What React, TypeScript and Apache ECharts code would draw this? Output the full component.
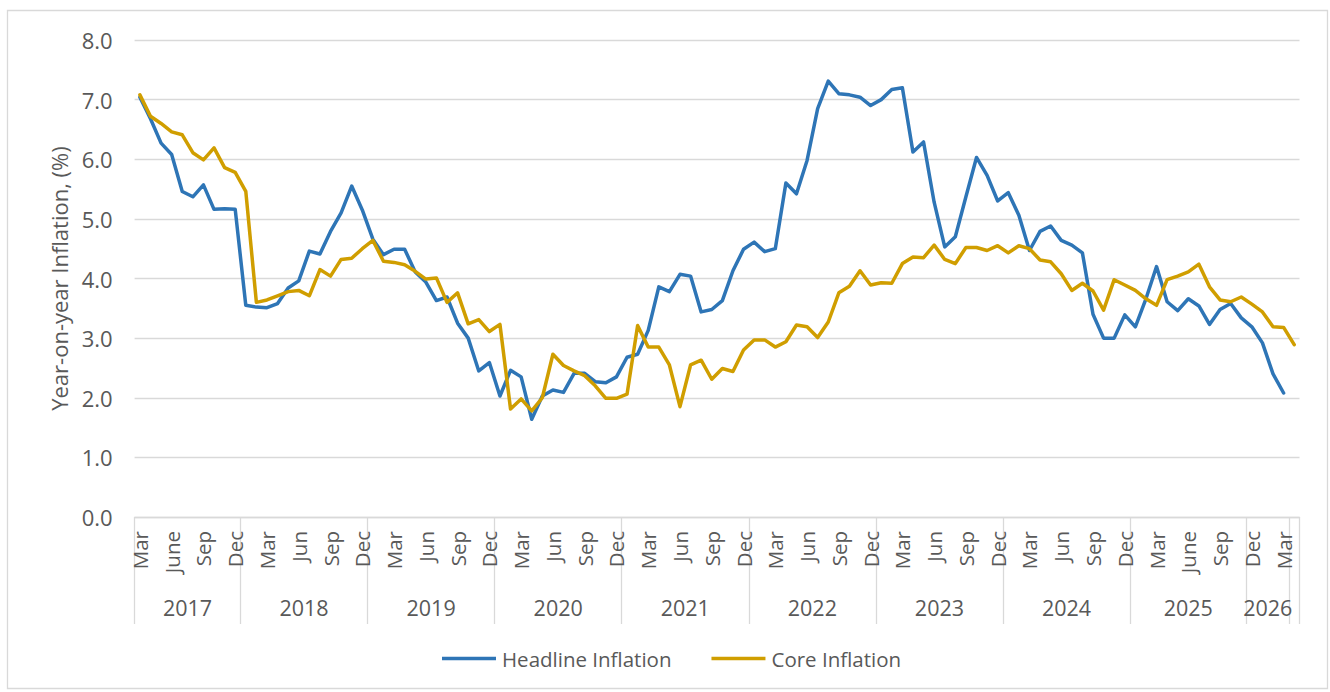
import React, { useEffect, useRef } from "react";
import * as echarts from "echarts";

// Monthly observations, Mar 2017 onward
const headlineInflation = [
  7.04, 6.68, 6.27, 6.08, 5.46, 5.37, 5.57, 5.16, 5.17, 5.16,
  3.55, 3.52, 3.51, 3.58, 3.84, 3.96, 4.46, 4.41, 4.79, 5.10, 5.55, 5.15,
  4.66, 4.40, 4.49, 4.49, 4.11, 3.94, 3.63, 3.69, 3.25, 3.00, 2.45, 2.59,
  2.03, 2.46, 2.35, 1.64, 2.03, 2.13, 2.09, 2.41, 2.41, 2.27, 2.25, 2.35,
  2.68, 2.73, 3.13, 3.86, 3.78, 4.07, 4.04, 3.44, 3.48, 3.63, 4.13, 4.49,
  4.61, 4.45, 4.50, 5.60, 5.42, 5.98, 6.85, 7.31, 7.10, 7.08, 7.04, 6.90,
  7.00, 7.17, 7.20, 6.12, 6.29, 5.28, 4.53, 4.70, 5.37, 6.03, 5.73, 5.30,
  5.44, 5.06, 4.47, 4.79, 4.88, 4.64, 4.56, 4.43, 3.40, 3.00, 3.00, 3.39,
  3.19, 3.66, 4.20, 3.61, 3.46, 3.66, 3.54, 3.23, 3.48, 3.58, 3.34, 3.19,
  2.92, 2.40, 2.08,
];

const coreInflation = [
  7.08, 6.72, 6.60, 6.46, 6.41, 6.11, 5.99, 6.19, 5.86, 5.78,
  5.46, 3.60, 3.64, 3.71, 3.78, 3.80, 3.71, 4.15, 4.04, 4.32, 4.34, 4.50,
  4.64, 4.29, 4.27, 4.23, 4.12, 3.99, 4.01, 3.60, 3.76, 3.24, 3.31, 3.11,
  3.23, 1.81, 1.98, 1.78, 2.00, 2.73, 2.54, 2.45, 2.37, 2.20, 1.99, 1.99,
  2.06, 3.21, 2.85, 2.85, 2.55, 1.85, 2.55, 2.63, 2.31, 2.49, 2.44, 2.80,
  2.97, 2.97, 2.85, 2.94, 3.22, 3.19, 3.01, 3.27, 3.76, 3.87, 4.13, 3.89,
  3.93, 3.92, 4.25, 4.36, 4.35, 4.56, 4.32, 4.25, 4.52, 4.52, 4.47, 4.55,
  4.43, 4.55, 4.50, 4.31, 4.28, 4.08, 3.80, 3.92, 3.79, 3.47, 3.98, 3.89,
  3.80, 3.66, 3.55, 3.98, 4.04, 4.11, 4.24, 3.86, 3.64, 3.61, 3.69, 3.57,
  3.44, 3.19, 3.18, 2.89,
];

// Lower-level labels, shown every third month starting with the first category
const monthTickLabels = [
  "Mar", "June", "Sep", "Dec",
  "Mar", "Jun", "Sep", "Dec",
  "Mar", "Jun", "Sep", "Dec",
  "Mar", "Jun", "Sep", "Dec",
  "Mar", "Jun", "Sep", "Dec",
  "Mar", "Jun", "Sep", "Dec",
  "Mar", "Jun", "Sep", "Dec",
  "Mar", "Jun", "Sep", "Dec",
  "Mar", "June", "Sep", "Dec",
  "Mar",
];

// Upper-level (year) groups and the number of categories in each
const yearNames = ["2017", "2018", "2019", "2020", "2021", "2022", "2023", "2024", "2025", "2026", ""];
const yearSpans = [10, 12, 12, 12, 12, 12, 12, 12, 11, 4, 1];

const seriesNames = ["Headline Inflation", "Core Inflation"];
const yTicks = [0, 8, 1];

export default function App() {
  const ref = useRef<HTMLDivElement>(null);

  useEffect(() => {
    if (!ref.current) return;
    const chart = echarts.init(ref.current, null, { renderer: "svg" });

    const total = yearSpans.reduce((a, b) => a + b, 0);
    const categories = Array.from({ length: total }, (_, i) => String(i));
    const monthLabelAt: Record<number, string> = {};
    monthTickLabels.forEach((l, j) => (monthLabelAt[j * 3] = l));

    const boundaries: number[] = [0];
    const centers: number[] = [];
    const yearAt: Record<string, string> = {};
    let acc = 0;
    yearSpans.forEach((s, k) => {
      const c = acc + s / 2;
      centers.push(c);
      yearAt[String(c)] = yearNames[k];
      acc += s;
      boundaries.push(acc);
    });

    const gray = "#595959";
    const grid = "#D9D9D9";
    const font = "'Open Sans', 'Noto Sans', sans-serif";

    chart.setOption({
      animation: false,
      backgroundColor: "#ffffff",
      textStyle: { fontFamily: font },
      grid: { left: 134.6, right: 30.5, top: 40, bottom: 175 },
      graphic: [
        {
          type: "rect",
          silent: true,
          shape: { x: 7.5, y: 10.5, width: 1320, height: 678 },
          style: { fill: "none", stroke: grid, lineWidth: 1.3 },
        },
      ],
      legend: {
        data: seriesNames,
        bottom: 18,
        left: 437,
        icon: "rect",
        itemWidth: 54,
        itemHeight: 3.5,
        itemGap: 40,
        textStyle: { color: gray, fontSize: 20.5, fontFamily: font, padding: [0, 0, 0, 1] },
      },
      xAxis: [
        {
          type: "category",
          data: categories,
          boundaryGap: true,
          axisLine: { show: true, lineStyle: { color: grid, width: 1.3 } },
          axisTick: { show: false },
          splitLine: { show: false },
          axisLabel: {
            interval: 0,
            rotate: 90,
            margin: 14,
            color: gray,
            fontSize: 20.5,
            fontFamily: font,
            formatter: (_v: string, i: number) => monthLabelAt[i] ?? "",
          },
        },
        {
          type: "value",
          min: 0,
          max: total,
          position: "bottom",
          axisLine: { show: false },
          splitLine: { show: false },
          axisTick: {
            show: true,
            customValues: boundaries,
            length: 107,
            lineStyle: { color: grid, width: 1.3 },
          },
          axisLabel: {
            customValues: centers,
            margin: 79,
            color: gray,
            fontSize: 21.5,
            fontFamily: font,
            formatter: (v: number) => yearAt[String(v)] ?? "",
          },
        },
      ],
      yAxis: {
        type: "value",
        min: yTicks[0],
        max: yTicks[1],
        interval: yTicks[2],
        name: "Year-on-year Inflation, (%)",
        nameLocation: "middle",
        nameGap: 65,
        nameTextStyle: { color: gray, fontSize: 22, fontFamily: font },
        axisLine: { show: false },
        axisTick: { show: false },
        axisLabel: {
          margin: 22,
          color: gray,
          fontSize: 22,
          fontFamily: font,
          formatter: (v: number) => v.toFixed(1),
        },
        splitLine: { lineStyle: { color: grid, width: 1.3 } },
      },
      series: [
        {
          name: seriesNames[0],
          type: "line",
          data: headlineInflation,
          symbol: "none",
          lineStyle: { color: "#2E75B6", width: 3.5, cap: "round", join: "round" },
          itemStyle: { color: "#2E75B6" },
        },
        {
          name: seriesNames[1],
          type: "line",
          data: coreInflation,
          symbol: "none",
          lineStyle: { color: "#D09E00", width: 3.5, cap: "round", join: "round" },
          itemStyle: { color: "#D09E00" },
        },
      ],
    });

    return () => chart.dispose();
  }, []);

  return (
    <div
      ref={ref}
      style={{ position: "absolute", left: 0, top: 0, width: 1330, height: 692, background: "#fff" }}
    />
  );
}
